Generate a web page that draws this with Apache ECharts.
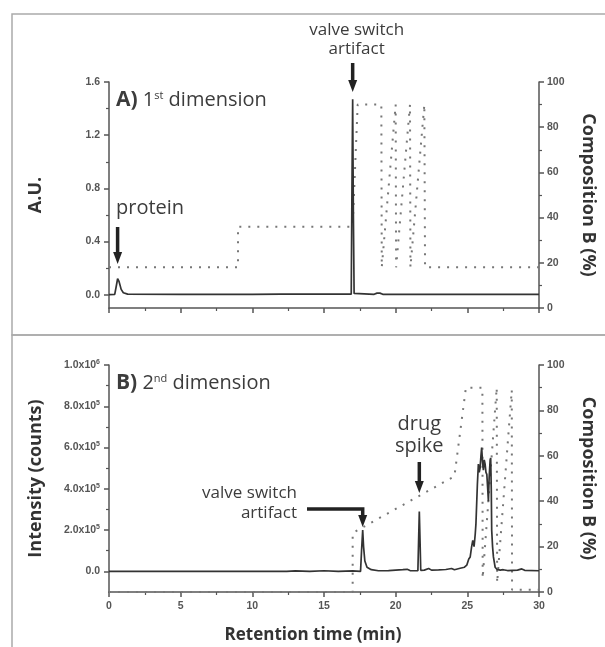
<!DOCTYPE html>
<html>
<head>
<meta charset="utf-8">
<script src="https://cdn.jsdelivr.net/npm/echarts@6/dist/echarts.min.js"></script>
<style>
html, body { margin: 0; padding: 0; background: #fff; }
#chart { width: 605px; height: 647px; }
</style>
</head>
<body>
<div id="chart"></div>
<script>
// tick values
var auTicks = [0, 0.4, 0.8, 1.2, 1.6];
var auMinor = [0.2, 0.6, 1.0, 1.4];
var countTicks = [0, 200000, 400000, 600000, 800000, 1000000];
var countMinor = [100000, 300000, 500000, 700000, 900000];

// panel A: UV trace [min, A.U.] and gradient [min, %B]
var signalA = [
    [0, 0], [0.4, 0.002], [0.5, 0.06], [0.6, 0.12], [0.7, 0.1], [0.85, 0.04], [1.0, 0.015],
    [1.3, 0.004], [5, 0.002], [10, 0.002], [12, 0.004], [15, 0.005], [16.9, 0.004],
    [16.95, 0.8], [17.0, 1.47], [17.05, 0.6], [17.1, 0.01], [18.5, 0.003], [18.7, 0.012],
    [18.9, 0.012], [19.1, 0.003], [25, 0.002], [30, 0.002]
];
var gradientA = [
    [0, 18], [9, 18], [9, 36], [17, 36], [17.35, 90], [19.0, 90], [19.03, 18], [20.0, 90],
    [20.03, 18], [21.0, 90], [21.03, 18], [22.0, 90], [22.05, 18], [30, 18]
];

// panel B: MS trace [min, counts] and gradient [min, %B]
var signalB = [
    [0, 0], [5, 0], [10, 0], [12.2, 0], [12.3, 8000], [12.4, 0], [13, 2000], [14, 0],
    [15, 3000], [16, 0], [17, 2000], [17.55, 0], [17.62, 100000], [17.7, 200000],
    [17.76, 120000], [17.85, 50000], [18.0, 20000], [18.3, 8000], [18.8, 3000], [19.5, 4000],
    [20.5, 8000], [20.8, 10000], [21.0, 4000], [21.55, 3000], [21.6, 150000], [21.65, 290000],
    [21.7, 150000], [21.75, 5000], [22.0, 6000], [22.3, 14000], [22.5, 6000], [23, 7000],
    [23.5, 9000], [23.9, 14000], [24.1, 8000], [24.5, 15000], [24.8, 20000], [24.96, 30000],
    [25.1, 60000], [25.2, 70000], [25.3, 120000], [25.38, 150000], [25.47, 120000],
    [25.55, 180000], [25.6, 230000], [25.7, 420000], [25.77, 520000], [25.83, 480000],
    [25.89, 500000], [25.95, 560000], [26.0, 600000], [26.06, 530000], [26.12, 490000],
    [26.18, 540000], [26.24, 520000], [26.3, 480000], [26.36, 470000], [26.42, 400000],
    [26.47, 340000], [26.52, 450000], [26.59, 540000], [26.63, 550000], [26.67, 400000],
    [26.7, 200000], [26.76, 120000], [26.82, 70000], [26.94, 20000], [27.06, 10000],
    [27.3, 6000], [27.5, 8000], [27.8, 4000], [28.5, 6000], [28.8, 12000], [29.0, 5000],
    [30, 3000]
];
var gradientB = [
    [0, 0], [17, 0], [17, 26], [24.1, 51], [24.9, 90], [26.05, 90], [26.07, 6], [27.05, 90],
    [27.08, 4], [28.1, 89], [28.12, 1], [30, 1]
];

var chart = echarts.init(document.getElementById('chart'));

var axisCol = '#555';
var tickFont = { color: '#555', fontSize: 10.5, fontWeight: 'bold', fontFamily: 'Liberation Sans' };
var nameFont = { color: '#333', fontSize: 18, fontWeight: 'bold', fontFamily: 'Open Sans' };

function sciLabel(v) {
    if (v === 0) return '0.0';
    var e = Math.floor(Math.log10(v) + 1e-9);
    return (v / Math.pow(10, e)).toFixed(1) + 'x10{s|' + e + '}';
}

function xAxis(gi, showLabels) {
    return {
        type: 'value', gridIndex: gi, min: 0, max: 30, interval: 5,
        axisLine: { onZero: false, lineStyle: { color: axisCol, width: 1.5 } },
        axisTick: { length: 5, lineStyle: { color: axisCol, width: 1.5 } },
        minorTick: { show: true, splitNumber: 2, length: 3, lineStyle: { color: axisCol, width: 1.2 } },
        axisLabel: Object.assign({ show: showLabels, margin: 9 }, tickFont),
        splitLine: { show: false }
    };
}

function leftAxis(gi, min, max, ticks, fmt, name) {
    return {
        type: 'value', gridIndex: gi, position: 'left', min: min, max: max,
        name: name, nameLocation: 'middle', nameGap: 64, nameRotate: 90, nameTextStyle: nameFont,
        axisLine: { show: true, onZero: false, lineStyle: { color: axisCol, width: 1.5 } },
        axisTick: { show: true, customValues: ticks, length: 5, lineStyle: { color: axisCol, width: 1.5 } },
        axisLabel: Object.assign({
            customValues: ticks, formatter: fmt, margin: 9,
            rich: { s: { fontSize: 7, fontWeight: 'bold', color: '#555', fontFamily: 'Liberation Sans', padding: [0, 0, 6, 0] } }
        }, tickFont),
        splitLine: { show: false }
    };
}

function minorAxis(gi, min, max, ticks) {
    return {
        type: 'value', gridIndex: gi, position: 'left', min: min, max: max,
        axisLine: { show: false, onZero: false },
        axisTick: { show: true, customValues: ticks, length: 3, lineStyle: { color: axisCol, width: 1.2 } },
        axisLabel: { show: false },
        splitLine: { show: false }
    };
}

function rightAxis(gi) {
    return {
        type: 'value', gridIndex: gi, position: 'right', min: 0, max: 100, interval: 20,
        name: 'Composition B (%)', nameLocation: 'middle', nameGap: 40, nameRotate: -90, nameTextStyle: nameFont,
        axisLine: { show: true, onZero: false, lineStyle: { color: axisCol, width: 1.5 } },
        axisTick: { length: 5, lineStyle: { color: axisCol, width: 1.5 } },
        minorTick: { show: true, splitNumber: 2, length: 3, lineStyle: { color: axisCol, width: 1.2 } },
        axisLabel: Object.assign({ margin: 8 }, tickFont),
        splitLine: { show: false }
    };
}

var traceStyle = { color: '#333', width: 1.7 };
var gradStyle = { color: '#777', width: 2, type: [2, 7] };

var option = {
    animation: false,
    grid: [
        { left: 109, right: 66, top: 82, height: 226 },
        { left: 109, right: 66, top: 365, height: 227 }
    ],
    xAxis: [xAxis(0, false), xAxis(1, true)],
    yAxis: [
        leftAxis(0, -0.1, 1.6, auTicks, function (v) { return v.toFixed(1); }, 'A.U.'),
        minorAxis(0, -0.1, 1.6, auMinor),
        rightAxis(0),
        leftAxis(1, -100000, 1000000, countTicks, sciLabel, 'Intensity (counts)'),
        minorAxis(1, -100000, 1000000, countMinor),
        rightAxis(1)
    ],
    series: [
        { type: 'line', xAxisIndex: 0, yAxisIndex: 2, data: gradientA, showSymbol: false, lineStyle: gradStyle, z: 2 },
        { type: 'line', xAxisIndex: 0, yAxisIndex: 0, data: signalA, showSymbol: false, lineStyle: traceStyle, z: 3 },
        { type: 'line', xAxisIndex: 1, yAxisIndex: 5, data: gradientB, showSymbol: false, lineStyle: gradStyle, z: 2 },
        { type: 'line', xAxisIndex: 1, yAxisIndex: 3, data: signalB, showSymbol: false, lineStyle: traceStyle, z: 3 }
    ]
};
chart.setOption(option);

// annotations placed from the axes
function px(gi, t) {
    return chart.convertToPixel({ xAxisIndex: gi, yAxisIndex: gi === 0 ? 0 : 3 }, [t, 0])[0];
}
var textCol = '#3c3c3c';
var arrowCol = '#222';

function arrow(x, y1, y2) {
    return [
        { type: 'line', z: 10, shape: { x1: x, y1: y1, x2: x, y2: y2 - 10 }, style: { stroke: arrowCol, lineWidth: 3.5 } },
        { type: 'polygon', z: 10, shape: { points: [[x - 4.5, y2 - 12], [x + 4.5, y2 - 12], [x, y2]] }, style: { fill: arrowCol } }
    ];
}
function label(text, x, y, size, align, lh, extra) {
    return {
        type: 'text', z: 10, x: x, y: y,
        style: Object.assign({
            text: text, fill: textCol, font: size + 'px "Open Sans"',
            textAlign: align, textVerticalAlign: 'middle', lineHeight: lh
        }, extra || {})
    };
}
var titleRich = {
    b: { fontWeight: 'bold', fontSize: 21, fontFamily: 'Open Sans', fill: textCol },
    s: { fontSize: 11, fontFamily: 'Open Sans', fill: textCol, padding: [0, 0, 9, 0] }
};

var xValveA = px(0, 17.0), xProtein = px(0, 0.6), xValveB = px(1, 17.7), xDrug = px(1, 21.65);

var graphics = [
    { type: 'rect', z: 0, shape: { x: 12, y: 14, width: 700, height: 321 }, style: { fill: 'none', stroke: '#aaa', lineWidth: 1.5 } },
    { type: 'rect', z: 0, shape: { x: 12, y: 335, width: 700, height: 400 }, style: { fill: 'none', stroke: '#aaa', lineWidth: 1.5 } },
    label('{b|A)} 1{s|st} dimension', 116, 100, 20, 'left', 22, { rich: titleRich }),
    label('{b|B)} 2{s|nd} dimension', 116, 383, 20, 'left', 22, { rich: titleRich }),
    label('valve switch\nartifact', xValveA + 4, 40, 17, 'center', 19),
    label('protein', 116, 208, 20, 'left', 22),
    label('drug\nspike', xDrug, 435, 20, 'center', 22),
    label('valve switch\nartifact', 297, 503, 17, 'right', 20),
    {
        type: 'text', z: 10, x: 313, y: 635,
        style: { text: 'Retention time (min)', fill: '#333', font: 'bold 17px "Open Sans"', textAlign: 'center', textVerticalAlign: 'middle' }
    },
    { type: 'polyline', z: 10, shape: { points: [[307, 509], [xValveB, 509], [xValveB, 517]] }, style: { stroke: arrowCol, lineWidth: 3.5, fill: 'none' } },
    { type: 'polygon', z: 10, shape: { points: [[xValveB - 4.5, 515], [xValveB + 4.5, 515], [xValveB, 527]] }, style: { fill: arrowCol } }
].concat(arrow(xValveA, 63, 92), arrow(xProtein, 227, 264), arrow(xDrug, 462, 493));

chart.setOption({ graphic: graphics });

window.addEventListener('resize', function () {
    chart.resize();
});
</script>
</body>
</html>
